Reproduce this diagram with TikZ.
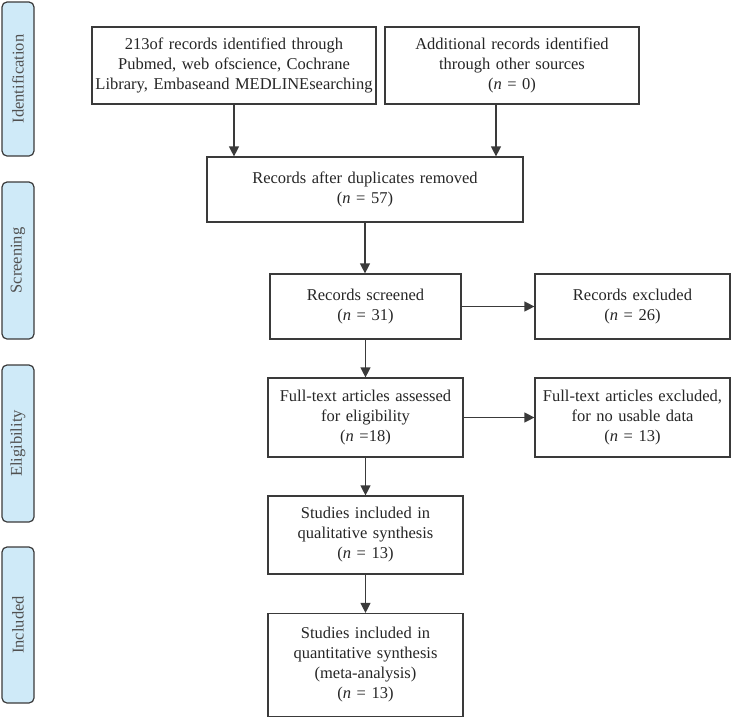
\documentclass[tikz,border=0pt]{standalone}
\usepackage{fontspec}
\setmainfont{Liberation Serif}
\usetikzlibrary{arrows.meta}
\definecolor{linec}{HTML}{3A3A3A}
\definecolor{barfill}{HTML}{CFEAF8}
\definecolor{bartext}{HTML}{505050}
\tikzset{
  box/.style={draw=linec, line width=1.2pt, fill=white, inner sep=0pt, align=center,
    font=\fontsize{16.5}{20}\selectfont, text=black!85},
  bar/.style={draw=linec, line width=1.2pt, fill=barfill, rounded corners=5pt, inner sep=0pt,
    minimum width=32pt},
  bartxt/.style={rotate=90, font=\fontsize{16.5}{20}\selectfont, text=bartext},
  arr/.style={draw=linec, line width=1.2pt, -{Triangle[length=10pt,width=10pt]}}
}
\begin{document}
\begin{tikzpicture}[x=1pt,y=-1pt]
\useasboundingbox (0,0) rectangle (731,718);
% side bars
\node[bar, minimum height=154pt] (s1) at (18,79) {};
\node[bartxt] (t1) at (s1.center) {Identification};
\node[bar, minimum height=157pt] (s2) at (18,260.5) {};
\node[bartxt] (t2) at (s2.center) {Screening};
\node[bar, minimum height=157pt] (s3) at (18,443.5) {};
\node[bartxt] (t3) at (s3.center) {Eligibility};
\node[bar, minimum height=156pt] (s4) at (18,625) {};
\node[bartxt] (t4) at (s4.center) {Included};
% boxes
\node[box, text width=284pt, minimum height=77pt] (b1) at (234,65.5)
  {213of records identified through\\Pubmed, web ofscience, Cochrane\\Library, Embaseand MEDLINEsearching};
\node[box, text width=254pt, minimum height=77pt] (b2) at (512,65.5)
  {Additional records identified\\through other sources\\(\textit{n} = 0)};
\node[box, text width=316pt, minimum height=65pt] (b3) at (365,189.5)
  {Records after duplicates removed\\(\textit{n} = 57)};
\node[box, text width=191pt, minimum height=65pt] (b4) at (365.5,306.5)
  {Records screened\\(\textit{n} = 31)};
\node[box, text width=195pt, minimum height=65pt] (b5) at (632.5,306.5)
  {Records excluded\\(\textit{n} = 26)};
\node[box, text width=195pt, minimum height=79pt] (b6) at (365.5,417.5)
  {Full-text articles assessed\\for eligibility\\(\textit{n} =18)};
\node[box, text width=195pt, minimum height=79pt] (b7) at (632.5,417.5)
  {Full-text articles excluded,\\for no usable data\\(\textit{n} = 13)};
\node[box, text width=195pt, minimum height=78pt] (b8) at (365.5,535)
  {Studies included in\\qualitative synthesis\\(\textit{n} = 13)};
\node[box, text width=195pt, minimum height=103pt] (b9) at (365.5,665)
  {Studies included in\\quantitative synthesis\\(meta-analysis)\\(\textit{n} = 13)};
% connectors
\draw[arr] (b1.south) -- (b1.south |- b3.north);
\draw[arr] ([xshift=-16pt]b2.south) -- ([xshift=-16pt]b2.south |- b3.north);
\draw[arr] (b3.south) -- (b3.south |- b4.north);
\draw[arr] (b4.east) -- (b5.west);
\draw[arr] (b4.south) -- (b6.north);
\draw[arr] (b6.east) -- (b7.west);
\draw[arr] (b6.south) -- (b8.north);
\draw[arr] (b8.south) -- (b9.north);
\end{tikzpicture}
\end{document}
